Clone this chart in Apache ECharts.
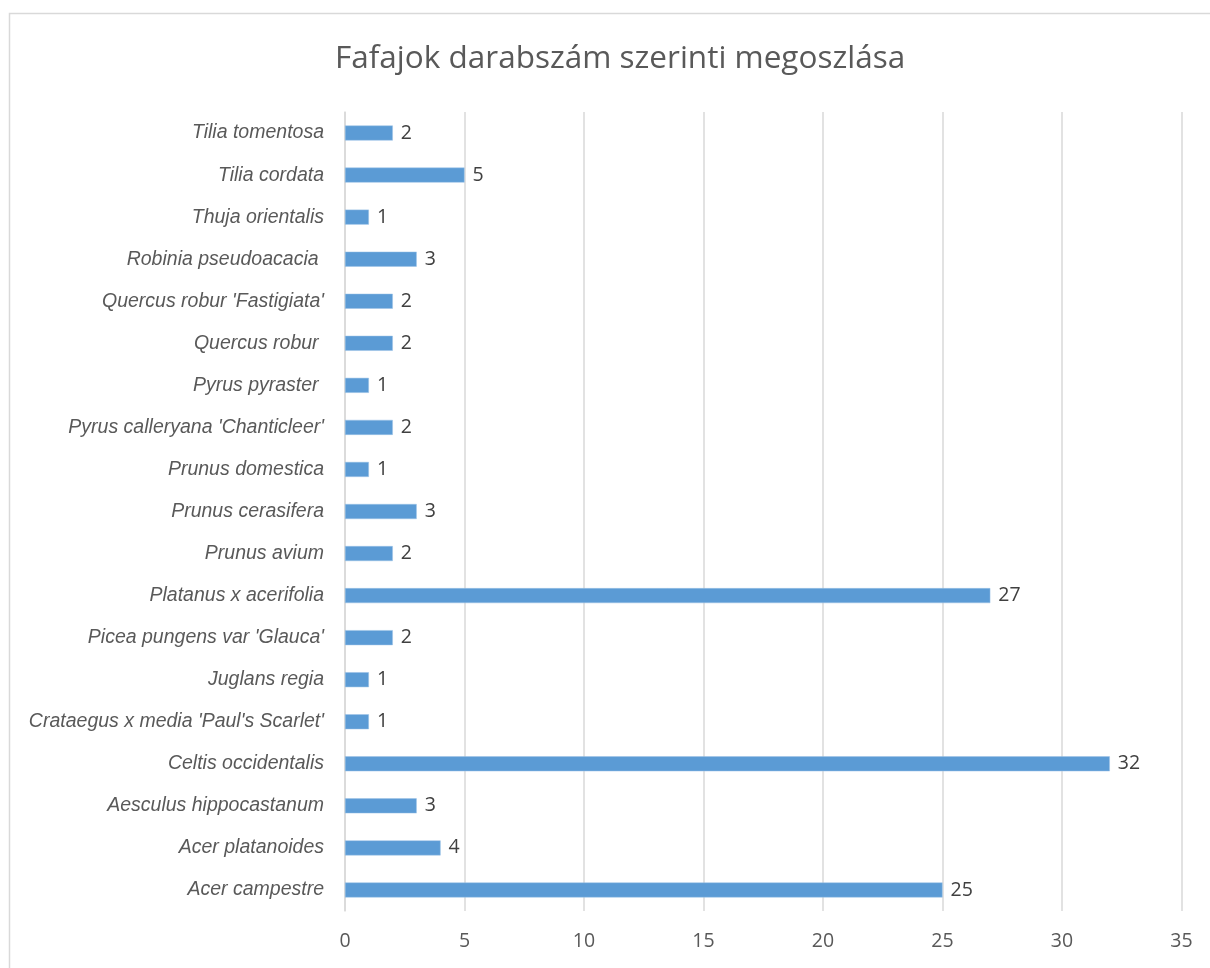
<!DOCTYPE html>
<html><head><meta charset="utf-8">
<script src="https://cdn.jsdelivr.net/npm/echarts@6/dist/echarts.min.js"></script>
<style>html,body{margin:0;padding:0;background:#fff}#c{width:1210px;height:968px}</style>
</head><body><div id="c"></div>
<script>
const categories = ["Acer campestre","Acer platanoides","Aesculus hippocastanum","Celtis occidentalis","Crataegus x media 'Paul's Scarlet'","Juglans regia","Picea pungens var 'Glauca'","Platanus x acerifolia","Prunus avium","Prunus cerasifera","Prunus domestica","Pyrus calleryana 'Chanticleer'","Pyrus pyraster ","Quercus robur ","Quercus robur 'Fastigiata'","Robinia pseudoacacia ","Thuja orientalis","Tilia cordata","Tilia tomentosa"];
const values = [25,4,3,32,1,1,2,27,2,3,1,2,1,2,2,3,1,5,2];
const titleText = "Fafajok darabszám szerinti megoszlása";

const chart = echarts.init(document.getElementById('c'), null, {renderer:'canvas'});
chart.setOption({
  animation:false,
  backgroundColor:'#fff',
  graphic:[{type:'rect',shape:{x:9.5,y:13.5,width:1210,height:1000},style:{fill:'none',stroke:'#d9d9d9',lineWidth:1.5}}],
  title:{text:titleText,left:330,top:38,textStyle:{fontFamily:'Open Sans',fontSize:31.5,fontWeight:'normal',color:'#595959'}},
  grid:{left:345,right:28.5,top:112,height:799,containLabel:false},
  xAxis:{type:'value',min:0,max:35,interval:5,
    axisLine:{show:false},axisTick:{show:false},
    splitLine:{show:true,lineStyle:{color:'#d9d9d9',width:1.5}},
    axisLabel:{margin:20,fontFamily:'Open Sans',fontSize:19.5,color:'#595959'}},
  yAxis:{type:'category',data:categories,
    axisLine:{show:true,lineStyle:{color:'#d9d9d9',width:1.5}},axisTick:{show:false},
    axisLabel:{margin:21,fontFamily:'Liberation Sans',fontStyle:'italic',fontSize:19.5,color:'#595959'}},
  series:[{type:'bar',data:values,barWidth:15,
    itemStyle:{color:'#5b9bd5',borderColor:'#9dc3e6',borderWidth:0.5},
    label:{show:true,position:'right',distance:8,fontFamily:'Open Sans',fontSize:19.5,color:'#404040'}}]
});
</script></body></html>
